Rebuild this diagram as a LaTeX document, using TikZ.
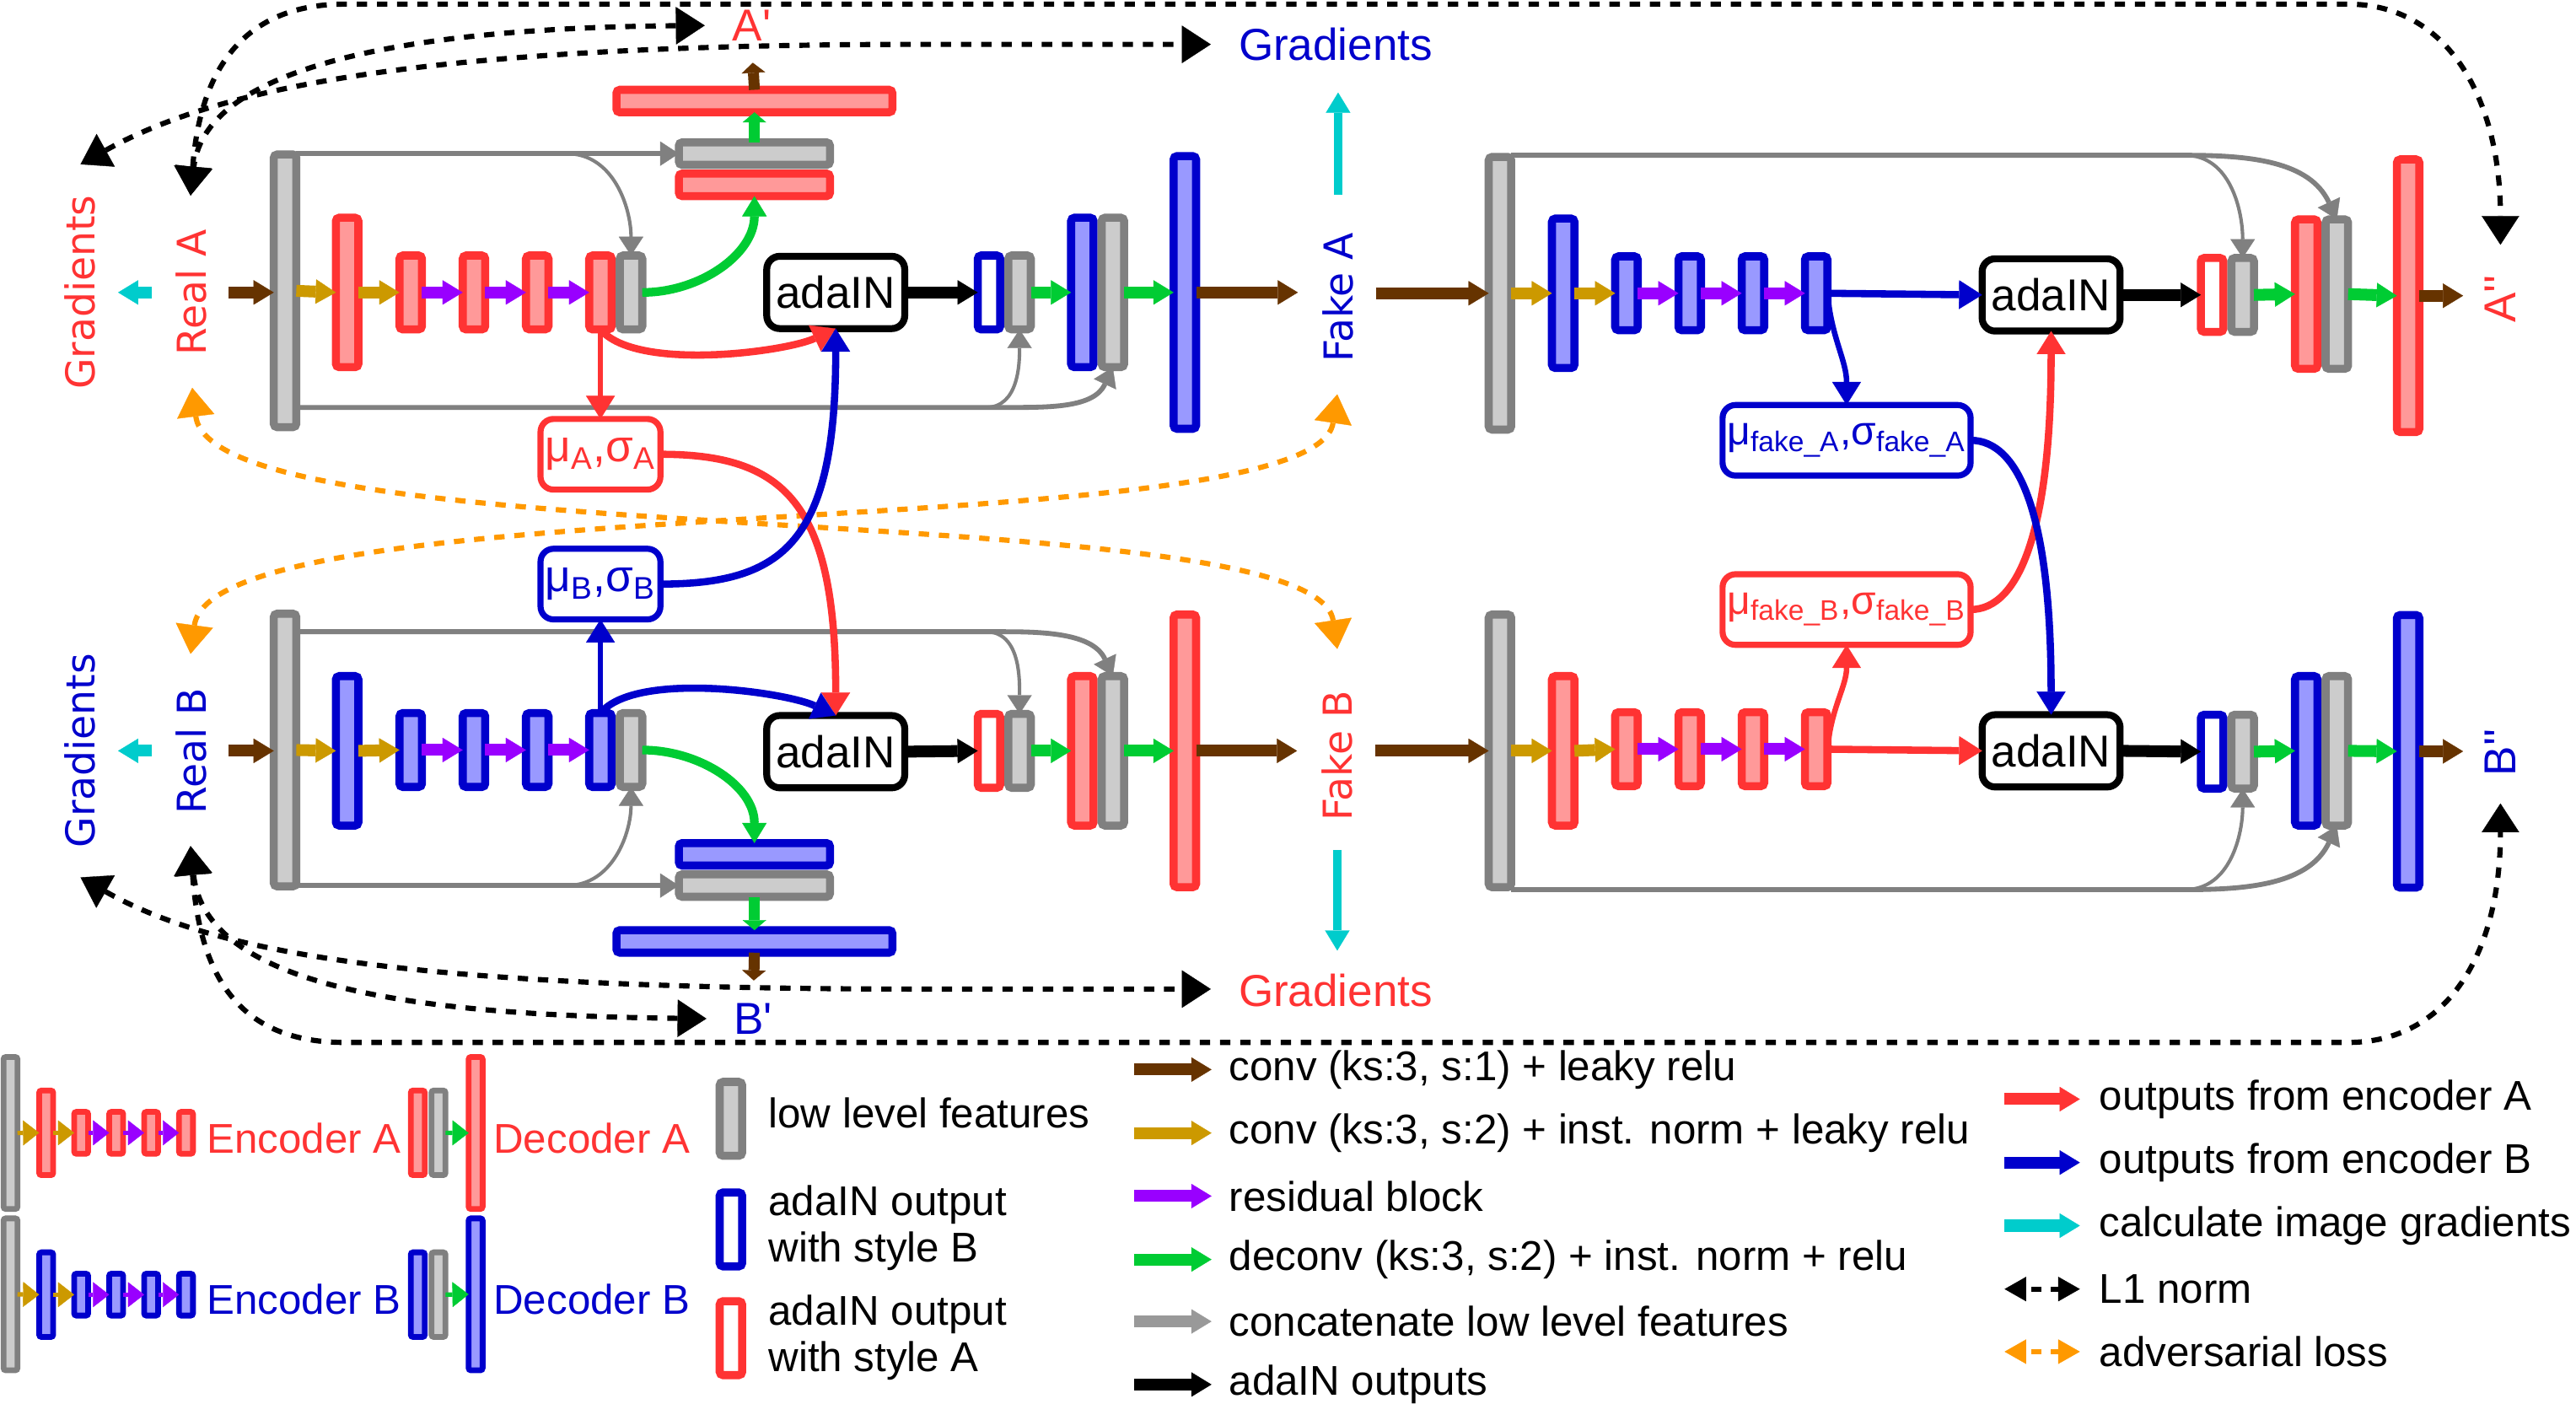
\documentclass[tikz,border=0pt]{standalone}
\usepackage{fontspec}
\setmainfont{Liberation Sans}
\newfontfamily\dvfont{DejaVu Sans}
\usetikzlibrary{arrows.meta}

\definecolor{cRed}{HTML}{FF3333}
\definecolor{cRedFill}{HTML}{FF9999}
\definecolor{cBlue}{HTML}{0000CC}
\definecolor{cBlueFill}{HTML}{9999FF}
\definecolor{cGray}{HTML}{808080}
\definecolor{cGrayKey}{HTML}{999999}
\definecolor{cGrayFill}{HTML}{CCCCCC}
\definecolor{cBrown}{HTML}{663300}
\definecolor{cGold}{HTML}{CC9900}
\definecolor{cPurple}{HTML}{9900FF}
\definecolor{cGreen}{HTML}{00CC33}
\definecolor{cCyan}{HTML}{00CCCC}
\definecolor{cOrange}{HTML}{FF9900}

\tikzset{
  featbar/.style={draw, line width=2.8pt, rounded corners=1.2pt, inner sep=0pt,
    outer sep=0pt, minimum width=0.274cm},
  redbar/.style={featbar, draw=cRed, fill=cRedFill},
  bluebar/.style={featbar, draw=cBlue, fill=cBlueFill},
  graybar/.style={featbar, draw=cGray, fill=cGrayFill},
  redwhite/.style={featbar, draw=cRed, fill=white},
  bluewhite/.style={featbar, draw=cBlue, fill=white},
  hTall/.style={minimum height=3.32cm},
  hMid/.style={minimum height=1.82cm},
  hSmall/.style={minimum height=0.9cm},
  lyingS/.style={minimum width=1.84cm, minimum height=0.274cm},
  lyingL/.style={minimum width=3.36cm, minimum height=0.274cm},
  minibar/.style={line width=2pt, rounded corners=0.8pt, minimum width=0.17cm},
  mTall/.style={minimum height=1.85cm},
  mMid/.style={minimum height=1.03cm},
  mSmall/.style={minimum height=0.51cm},
  vlabel/.style={font=\dvfont\fontsize{13.8}{16}\selectfont, rotate=90, inner sep=0pt},
  plabel/.style={font=\fontsize{15.5}{18}\selectfont, inner sep=0pt},
  legtext/.style={font=\fontsize{14.4}{16.2}\selectfont, inner sep=0pt, anchor=west, align=left},
  adabox/.style={draw, fill=white, line width=2.4pt, rounded corners=4.5pt, minimum width=1.68cm,
    minimum height=0.88cm, inner sep=0pt, outer sep=0pt, font=\fontsize{15.5}{18}\selectfont},
  statbox/.style={draw, fill=white, line width=2.1pt, rounded corners=4.5pt, minimum height=0.86cm,
    inner sep=0pt, outer sep=0pt, font=\fontsize{15.5}{18}\selectfont},
  fakestat/.style={statbox, minimum width=3.02cm, font=\fontsize{14}{16}\selectfont},
  flow/.style={line width=4.1pt, -{Triangle[length=7pt,width=8.5pt,line width=0.1pt]}},
  stackflow/.style={line width=3.8pt, -{Triangle[length=3.5pt,width=8.2pt,line width=0.1pt]}},
  miniflow/.style={line width=1.5pt, -{Triangle[length=5.6pt,width=8.7pt,line width=0.1pt]}},
  redcon/.style={draw=cRed, line width=2.5pt, -{Triangle[length=8pt,width=10pt,line width=0.1pt]}},
  bluecon/.style={draw=cBlue, line width=2.5pt, -{Triangle[length=8pt,width=10pt,line width=0.1pt]}},
  redthin/.style={redcon, line width=1.9pt},
  bluethin/.style={bluecon, line width=1.9pt},
  greencon/.style={draw=cGreen, line width=3pt, -{Triangle[length=7pt,width=8.5pt,line width=0.1pt]}},
  graycon/.style={draw=cGray, line width=1.7pt, -{Triangle[length=6.5pt,width=8.5pt,line width=0.1pt]}},
  graythin/.style={graycon, line width=1.2pt},
  lnorm/.style={draw=black, line width=1.8pt, dash pattern=on 3.6pt off 3.4pt,
    {Triangle[length=10pt,width=13pt,line width=0.1pt]}-{Triangle[length=10pt,width=13pt,line width=0.1pt]}},
  advloss/.style={lnorm, draw=cOrange},
  lnormkey/.style={draw=black, line width=1.8pt, dash pattern=on 3.4pt off 3.4pt, dash phase=5pt,
    {Triangle[length=7.5pt,width=8.5pt,line width=0.1pt]}-{Triangle[length=7.5pt,width=8.5pt,line width=0.1pt]}},
}

\begin{document}
\begin{tikzpicture}[x=0.02cm, y=-0.02cm]
\useasboundingbox (0,0) rectangle (1568,854.2);

% loss connectors
\coordinate (tRA) at (116,119);
\coordinate (tRB) at (116,515);
\coordinate (tGA) at (49,100);
\coordinate (tGB) at (49,534);
\coordinate (tRecA) at (429,15.5);
\coordinate (tRecB) at (430,620);
\coordinate (tCycA) at (1522,149);
\coordinate (tCycB) at (1522,489);
\coordinate (tGFA) at (737,27);
\coordinate (tGFB) at (737,602);
\coordinate (oRA) at (117,236);
\coordinate (oRB) at (116,398);
\coordinate (oFA) at (814,240);
\coordinate (oFB) at (814,395);

\draw[lnorm] (tRecA) .. controls (250,17) and (125,40) .. (tRA);
\draw[lnorm] (tRA) .. controls (122,40) and (150,2.5) .. (210,2.5) -- (1429,2.5) .. controls (1490,2.5) and (1522,60) .. (tCycA);
\draw[lnorm] (tGA) .. controls (130,55) and (250,27) .. (560,27) -- (tGFA);
\draw[lnorm] (tRecB) .. controls (250,618) and (125,600) .. (tRB);
\draw[lnorm] (tRB) .. controls (122,600) and (150,634.5) .. (210,634.5) -- (1429,634.5) .. controls (1490,634.5) and (1522,580) .. (tCycB);
\draw[lnorm] (tGB) .. controls (130,580) and (250,602) .. (560,602) -- (tGFB);
\draw[advloss] (oRA) .. controls (130,340) and (800,300) .. (oFB);
\draw[advloss] (oRB) .. controls (130,294) and (800,334) .. (oFA);

% labels
\node[vlabel, text=cRed] (gradA) at (48.6,178) {Gradients};
\node[vlabel, text=cRed] (realA) at (116.5,178) {Real A};
\node[vlabel, text=cBlue] (gradB) at (48.6,457) {Gradients};
\node[vlabel, text=cBlue] (realB) at (116.5,457) {Real B};
\node[vlabel, text=cBlue] (fakeA) at (814.5,181) {Fake A};
\node[vlabel, text=cRed] (fakeB) at (814,460) {Fake B};
\node[plabel, text=cRed, rotate=90] (cycA) at (1522,182) {A\textquotesingle\textquotesingle};
\node[plabel, text=cBlue, rotate=90] (cycB) at (1522,458) {B\textquotesingle\textquotesingle};
\node[plabel, text=cRed] (recA) at (457.5,15.5) {A\textquotesingle};
\node[plabel, text=cBlue] (recB) at (458.5,620) {B\textquotesingle};
\node[plabel, text=cBlue] (gradFA) at (813,27) {Gradients};
\node[plabel, text=cRed] (gradFB) at (813,603) {Gradients};

% real A branch
\node[graybar, hTall] (gA0) at (173.5,177) {};
\node[redbar, hMid] (eA1) at (211.3,178) {};
\foreach \i/\x in {2/250,3/288.5,4/327,5/365.5}
  \node[redbar, hSmall] (eA\i) at (\x,178) {};
\node[graybar, hSmall] (gA1) at (384.1,178) {};
\node[adabox] (adaA) at (508.7,178) {adaIN};
\node[bluewhite, hSmall] (wA) at (602,178) {};
\node[graybar, hSmall] (gA2) at (620.6,178) {};
\node[bluebar, hMid] (dA1) at (658.8,178) {};
\node[graybar, hMid] (gA3) at (677.4,178) {};
\node[bluebar, hTall] (dA2) at (721.2,178) {};
\node[redbar, lyingS] (sA1) at (459.2,112.5) {};
\node[graybar, lyingS] (sA2) at (459.2,93.5) {};
\node[redbar, lyingL] (sA3) at (459.2,61.5) {};

% real B branch
\node[graybar, hTall] (gB0) at (173.5,456.5) {};
\node[bluebar, hMid] (eB1) at (211.3,457) {};
\foreach \i/\x in {2/250,3/288.5,4/327,5/365.5}
  \node[bluebar, hSmall] (eB\i) at (\x,456.5) {};
\node[graybar, hSmall] (gB1) at (384.1,456.5) {};
\node[adabox] (adaB) at (508.7,457.5) {adaIN};
\node[redwhite, hSmall] (wB) at (602,457) {};
\node[graybar, hSmall] (gB2) at (620.6,457) {};
\node[redbar, hMid] (dB1) at (658.8,457) {};
\node[graybar, hMid] (gB3) at (677.4,457) {};
\node[redbar, hTall] (dB2) at (721.2,457) {};
\node[bluebar, lyingS] (sB1) at (459.2,520) {};
\node[graybar, lyingS] (sB2) at (459.2,539) {};
\node[bluebar, lyingL] (sB3) at (459.2,573) {};

% style statistics
\node[statbox, draw=cRed, text=cRed, minimum width=1.46cm] (muA) at (365.5,276.5) {μ\textsubscript{A},σ\textsubscript{A}};
\node[statbox, draw=cBlue, text=cBlue, minimum width=1.46cm] (muB) at (365.5,355.5) {μ\textsubscript{B},σ\textsubscript{B}};
\node[fakestat, draw=cBlue, text=cBlue] (muFA) at (1124,268) {μ\textsubscript{fake\_A},σ\textsubscript{fake\_A}};
\node[fakestat, draw=cRed, text=cRed] (muFB) at (1124,371) {μ\textsubscript{fake\_B},σ\textsubscript{fake\_B}};

% fake A branch
\node[graybar, hTall] (gC0) at (913,178.5) {};
\node[bluebar, hMid] (eC1) at (951.5,178.5) {};
\foreach \i/\x in {2/990,3/1028.5,4/1067,5/1105.5}
  \node[bluebar, hSmall] (eC\i) at (\x,178.5) {};
\node[adabox] (adaC) at (1248.5,179.5) {adaIN};
\node[redwhite, hSmall] (wC) at (1346.5,179.5) {};
\node[graybar, hSmall] (gC2) at (1365.1,179.5) {};
\node[redbar, hMid] (dC1) at (1403.8,179) {};
\node[graybar, hMid] (gC3) at (1422.4,179) {};
\node[redbar, hTall] (dC2) at (1465.8,180) {};

% fake B branch
\node[graybar, hTall] (gD0) at (913,457) {};
\node[redbar, hMid] (eD1) at (951.5,457) {};
\foreach \i/\x in {2/990,3/1028.5,4/1067,5/1105.5}
  \node[redbar, hSmall] (eD\i) at (\x,456) {};
\node[adabox] (adaD) at (1248.5,457) {adaIN};
\node[bluewhite, hSmall] (wD) at (1346.5,457.5) {};
\node[graybar, hSmall] (gD2) at (1365.1,457.5) {};
\node[bluebar, hMid] (dD1) at (1403.8,457) {};
\node[graybar, hMid] (gD3) at (1422.4,457) {};
\node[bluebar, hTall] (dD2) at (1465.8,457.3) {};

% low level features
\coordinate (jA) at (345,93.5);
\coordinate (jA2) at (612,248);
\coordinate (jA3) at (600,248);
\draw[graycon] (gA0.east |- sA2.west) -- (sA2.west);
\draw[graythin] (jA) to[out=0,in=90] (gA1.north);
\draw[graycon] (gA0.east |- jA2) -- (jA2) to[out=0,in=-115] (gA3.south);
\draw[graythin] (jA3) to[out=0,in=-90] (gA2.south);

\coordinate (jB) at (612,384.5);
\coordinate (jB2) at (600,384.5);
\coordinate (jB3) at (345,539);
\draw[graycon] (gB0.east |- jB) -- (jB) to[out=0,in=115] (gB3.north);
\draw[graythin] (jB2) to[out=0,in=90] (gB2.north);
\draw[graycon] (gB0.east |- sB2.west) -- (sB2.west);
\draw[graythin] (jB3) to[out=0,in=-90] (gB1.south);

\coordinate (jC) at (1330,94.5);
\draw[graycon] (gC0.east |- jC) -- (jC) to[out=0,in=115] (gC3.north);
\draw[graythin] (jC) to[out=0,in=90] (gC2.north);
\coordinate (jD) at (1330,541.5);
\draw[graycon] (gD0.east |- jD) -- (jD) to[out=0,in=-115] (gD3.south);
\draw[graythin] (jD) to[out=0,in=-90] (gD2.south);

% flow arrows
\draw[flow, draw=cBrown, shorten <=7.3pt] (realA.south) -- (realA.south -| gA0.west);
\draw[flow, draw=cBrown, shorten <=7.3pt] (realB.south) -- (realB.south -| gB0.west);
\draw[flow, draw=cCyan, shorten <=8.1pt, shorten >=7.7pt] (realA.north) -- (realA.north -| gradA.south);
\draw[flow, draw=cCyan, shorten <=8.1pt, shorten >=7.7pt] (realB.north) -- (realB.north -| gradB.south);
\foreach \r in {A,B,C,D}{
  \draw[flow, draw=cGold] (g\r0.east) -- (e\r1.west);
  \draw[flow, draw=cGold] (e\r1.east) -- (e\r2.west);
  \draw[flow, draw=cPurple] (e\r2.east) -- (e\r3.west);
  \draw[flow, draw=cPurple] (e\r3.east) -- (e\r4.west);
  \draw[flow, draw=cPurple] (e\r4.east) -- (e\r5.west);
  \draw[flow, draw=black] (ada\r.east) -- (w\r.west);
  \draw[flow, draw=cGreen] (g\r2.east) -- (d\r1.west);
  \draw[flow, draw=cGreen] (g\r3.east) -- (d\r2.west);
}
\draw[flow, draw=cBrown, shorten >=8.4pt] (dA2.east) -- (dA2.east -| fakeA.north);
\draw[flow, draw=cBrown, shorten >=8.4pt] (dB2.east) -- (dB2.east -| fakeB.north);
\draw[flow, draw=cBrown, shorten <=7.5pt] (fakeA.south |- gC0.west) -- (gC0.west);
\draw[flow, draw=cBrown, shorten <=7.5pt] (fakeB.south |- gD0.west) -- (gD0.west);
\draw[flow, draw=cBrown, shorten >=7.4pt] (dC2.east) -- (dC2.east -| cycA.north);
\draw[flow, draw=cBrown, shorten >=7.4pt] (dD2.east) -- (dD2.east -| cycB.north);
\draw[flow, draw=cCyan, line width=3pt, shorten <=12.9pt, shorten >=10.8pt] (fakeA.east) -- (fakeA.east |- gradFA.south);
\draw[flow, draw=cCyan, line width=3pt, shorten <=9.9pt, shorten >=8pt] (fakeB.west) -- (fakeB.west |- gradFB.north);

% reconstruction stacks
\draw[greencon] (gA1.east) to[out=0,in=-90] (sA1.south);
\draw[stackflow, draw=cGreen] (sA2.north) -- (sA3.south);
\draw[stackflow, draw=cBrown, shorten >=7.4pt] (sA3.north) -- (recA.south);
\draw[greencon] (gB1.east) to[out=0,in=90] (sB1.north);
\draw[stackflow, draw=cGreen] (sB2.south) -- (sB3.north);
\draw[stackflow, draw=cBrown, shorten >=7.7pt] (sB3.south) -- (recB.north);

% encoder outputs
\draw[redthin] (eA5.south) -- (muA.north);
\draw[redcon] (eA5.south) to[out=-50,in=-155,looseness=0.6] (adaA.south);
\draw[redcon] (muA.east) .. controls +(75,0) and +(0,-130) .. (adaB.north);
\draw[bluethin] (eB5.north) -- (muB.south);
\draw[bluecon] (eB5.north) to[out=50,in=155,looseness=0.6] (adaB.north);
\draw[bluecon] (muB.east) .. controls +(75,0) and +(0,130) .. (adaA.south);
\draw[bluecon] (eC5.east) -- (adaC.west);
\draw[bluethin] (eC5.east) to[out=-85,in=90] (muFA.north);
\draw[redcon] (eD5.east) -- (adaD.west);
\draw[redthin] (eD5.east) to[out=85,in=-90] (muFB.south);
\draw[redcon] (muFB.east) .. controls +(30,0) and +(0,120) .. (adaC.south);
\draw[bluecon] (muFA.east) .. controls +(30,0) and +(0,-120) .. (adaD.north);

% legend: encoders and decoders
\node[graybar, minibar, mTall] (mgA) at (6.4,689.6) {};
\node[redbar, minibar, mMid] (mA1) at (28.1,689.5) {};
\foreach \i/\x in {2/49.4,3/70.7,4/92,5/113.2}
  \node[redbar, minibar, mSmall] (mA\i) at (\x,689.5) {};
\node[legtext, text=cRed] (tEncA) at (125.6,693) {Encoder A};
\node[redbar, minibar, mMid] (mdA1) at (254.3,689.5) {};
\node[graybar, minibar, mMid] (mdA2) at (266.9,689.5) {};
\node[redbar, minibar, mTall] (mdA3) at (289.5,689.6) {};
\node[legtext, text=cRed] (tDecA) at (300.1,693) {Decoder A};
\node[graybar, minibar, mTall] (mgB) at (6.4,787.8) {};
\node[bluebar, minibar, mMid] (mB1) at (28.1,788) {};
\foreach \i/\x in {2/49.4,3/70.7,4/92,5/113.2}
  \node[bluebar, minibar, mSmall] (mB\i) at (\x,788) {};
\node[legtext, text=cBlue] (tEncB) at (125.6,791) {Encoder B};
\node[bluebar, minibar, mMid] (mdB1) at (254.3,788) {};
\node[graybar, minibar, mMid] (mdB2) at (266.9,788) {};
\node[bluebar, minibar, mTall] (mdB3) at (289.5,787.8) {};
\node[legtext, text=cBlue] (tDecB) at (300.1,791) {Decoder B};
\foreach \r in {A,B}{
  \draw[miniflow, draw=cGold] (mg\r.east) -- (m\r1.west);
  \draw[miniflow, draw=cGold] (m\r1.east) -- (m\r2.west);
  \draw[miniflow, draw=cPurple] (m\r2.east) -- (m\r3.west);
  \draw[miniflow, draw=cPurple] (m\r3.east) -- (m\r4.west);
  \draw[miniflow, draw=cPurple] (m\r4.east) -- (m\r5.west);
  \draw[miniflow, draw=cGreen] (md\r2.east) -- (md\r3.west);
}

% legend: feature maps
\node[graybar, hSmall] (kLow) at (444.9,681) {};
\node[bluewhite, hSmall] (kStyB) at (444.9,748.3) {};
\node[redwhite, hSmall] (kStyA) at (444.9,814.5) {};
\node[legtext] (tLow) at (467.5,677.6) {low level features};
\node[legtext] (tStyB) at (467.5,747.3) {adaIN output\\with style B};
\node[legtext] (tStyA) at (467.5,814.1) {adaIN output\\with style A};

% legend: arrows
\node[legtext] (k1) at (747.8,651) {conv (ks:3, s:1) + leaky relu};
\node[legtext] (k2) at (747.8,689.6) {conv (ks:3, s:2) + inst. norm + leaky relu};
\node[legtext] (k3) at (747.8,728) {residual block};
\node[legtext] (k4) at (747.8,766.6) {deconv (ks:3, s:2) + inst. norm + relu};
\node[legtext] (k5) at (747.8,804.3) {concatenate low level features};
\node[legtext] (k6) at (747.8,842.7) {adaIN outputs};
\node[legtext] (k7) at (1277.6,669) {outputs from encoder A};
\node[legtext] (k8) at (1277.6,707.6) {outputs from encoder B};
\node[legtext] (k9) at (1277.6,746) {calculate image gradients};
\node[legtext] (k10) at (1277.6,784.6) {L1 norm};
\node[legtext] (k11) at (1277.6,822.7) {adversarial loss};
\foreach \k/\c in {k1/cBrown,k2/cGold,k3/cPurple,k4/cGreen,k5/cGrayKey,k6/black}
  \draw[flow, draw=\c] ([xshift=-32.7pt]\k.west) -- ([xshift=-5.9pt]\k.west);
\foreach \k/\c in {k7/cRed,k8/cBlue,k9/cCyan}
  \draw[flow, draw=\c] ([xshift=-32.7pt]\k.west) -- ([xshift=-6.6pt]\k.west);
\draw[lnormkey] ([xshift=-32.7pt]k10.west) -- ([xshift=-6.6pt]k10.west);
\draw[lnormkey, draw=cOrange] ([xshift=-32.7pt]k11.west) -- ([xshift=-6.6pt]k11.west);

\end{tikzpicture}
\end{document}
